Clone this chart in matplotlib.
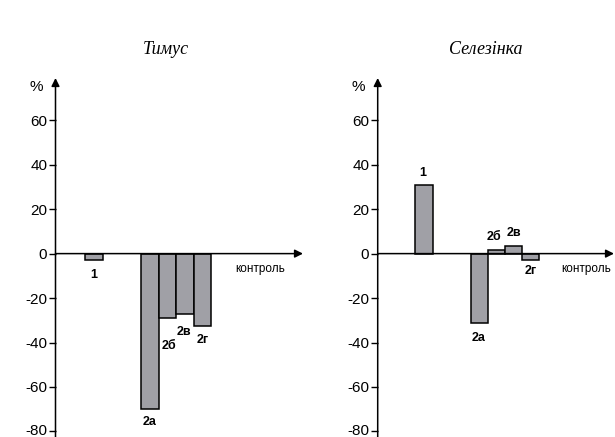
import numpy as np
import matplotlib
matplotlib.use("Agg")
import matplotlib.pyplot as plt
import matplotlib.transforms as mtransforms

plt.rcParams['font.family'] = ['Liberation Sans', 'DejaVu Sans']
plt.rcParams['axes.unicode_minus'] = False

# data (% relative to control)
groups = ['1', '2а', '2б', '2в', '2г']
thymus = [-3, -70, -29, -27, -32.5]
spleen = [31, -31, 1.8, 3.6, -3]
titles = ['Тимус', 'Селезінка']
yticks = [-80, -60, -40, -20, 0, 20, 40, 60]

# label nudges (pixels) so the labels don't collide
thymus_lbl = [(0, -15), (0, -13), (1, -28), (-1.5, -18), (0.5, -14)]
spleen_lbl = [(-1, 12), (-1, -15), (-2, 13), (0, 13), (0, -11)]

fig = plt.figure(figsize=(6.15, 4.37), dpi=100)
W, H = 615, 437
ymin, ymax = -82.5, 79

def panel(x0, x1, px_unit, c1, c2, vals, lbls, title, title_x):
    ax = fig.add_axes([x0 / W, 0, (x1 - x0) / W, (H - 78) / H])
    xmax = (x1 - x0) / px_unit
    ax.set_xlim(0, xmax)
    ax.set_ylim(ymin, ymax)
    for s in ax.spines.values():
        s.set_visible(False)
    # first bar alone, the rest side by side
    xs = np.array([c1] + [c2 + i for i in range(len(vals) - 1)])
    widths = [1.08] + [1.0] * (len(vals) - 1)
    ax.bar(xs, vals, width=widths, color='#a0a0a6', edgecolor='black',
           linewidth=1.1, zorder=2)
    for x, v, g, (dx, dy) in zip(xs, vals, groups, lbls):
        ax.annotate(g, (x, v), xytext=(dx, dy), textcoords='offset pixels',
                    ha='center', va='center', fontsize=9, fontweight='bold')
    arrow = dict(arrowstyle='-|>', color='black', lw=1.1, mutation_scale=12,
                 shrinkA=0, shrinkB=0)
    ax.annotate('', xy=(0, ymax), xytext=(0, ymin), arrowprops=arrow,
                annotation_clip=False, zorder=3)
    ax.annotate('', xy=(xmax, 0), xytext=(0, 0), arrowprops=arrow,
                annotation_clip=False, zorder=3)
    ax.set_xticks([])
    ax.set_yticks(yticks)
    ax.tick_params(axis='y', direction='out', length=5, width=1, pad=1,
                   labelsize=11)
    # lift the bottom label a touch so it isn't clipped by the page edge
    lab = ax.get_yticklabels()[0]
    lab.set_transform(lab.get_transform() +
                      mtransforms.ScaledTranslation(0, 2 / 100, fig.dpi_scale_trans))
    fig.text((x0 - 19) / W, 1 - 87 / H, '%', fontsize=11,
             ha='center', va='center')
    fig.text(title_x / W, 1 - 50 / H, title, fontsize=13, style='italic',
             family='Liberation Serif', ha='center', va='center')
    return ax

panel(55.5, 303, 17.5, 2.2, 5.4, thymus, thymus_lbl, titles[0], 166)
panel(377.7, 614, 17.2, 2.7, 5.9, spleen, spleen_lbl, titles[1], 486)

fig.text(260.5 / W, 1 - 269 / H, 'контроль', fontsize=8.5, ha='center', va='center')
fig.text(586 / W, 1 - 269 / H, 'контроль', fontsize=8.5, ha='center', va='center')

fig.savefig('out.png', dpi=100)
